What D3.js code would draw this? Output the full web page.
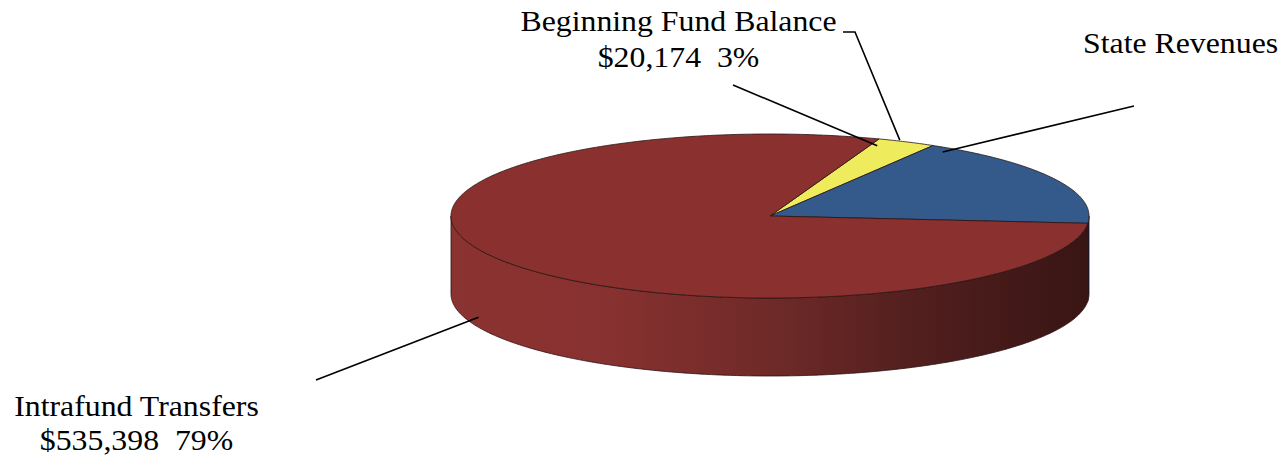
<!DOCTYPE html>
<html><head><meta charset="utf-8">
<script src="https://cdn.jsdelivr.net/npm/d3@7"></script>
<style>html,body{margin:0;padding:0;background:#fff;}svg{display:block;}
text{font-family:"Liberation Serif","Times New Roman","DejaVu Serif",serif;}</style>
</head><body>
<svg id="chart" width="1282" height="462"></svg>
<script>
const categories = ["Beginning Fund Balance", "State Revenues", "Intrafund Transfers"];
const values = [20174, 121000, 535398];
const valueLabels = ["$20,174  3%", "", "$535,398  79%"];
const colors = ["#EEEC5C", "#335A8A", "#8A3130"];

const svg = d3.select("#chart");
const cx = 770, cy = 216, rx = 319, ry = 82, depth = 78;
const start = 20 * Math.PI / 180;

const pie = d3.pie().sort(null).startAngle(start).endAngle(start + 2 * Math.PI);
const arcs = pie(values);

function pt(a, r = 1, dy = 0) {
  return [cx + rx * r * Math.sin(a), cy - ry * r * Math.cos(a) + dy];
}
function arcPts(a0, a1, dy = 0) {
  const n = Math.max(2, Math.ceil(Math.abs(a1 - a0) / 0.01));
  return d3.range(n + 1).map(i => pt(a0 + (a1 - a0) * i / n, 1, dy));
}
const line = d3.line();

const defs = svg.append("defs");
const grad = defs.append("linearGradient").attr("id", "side")
  .attr("gradientUnits", "userSpaceOnUse")
  .attr("x1", cx - rx).attr("x2", cx + rx).attr("y1", 0).attr("y2", 0);
[[0, "#8b3331"], [0.25, "#873130"], [0.5, "#6f2a28"], [0.75, "#4f1e1d"], [1, "#381514"]]
  .forEach(([o, c]) => grad.append("stop").attr("offset", o).attr("stop-color", c));
const gradB = defs.append("linearGradient").attr("id", "sideB")
  .attr("gradientUnits", "userSpaceOnUse")
  .attr("x1", cx - rx).attr("x2", cx + rx).attr("y1", 0).attr("y2", 0);
[[0, "#335A8A"], [1, "#152a45"]].forEach(([o, c]) => gradB.append("stop").attr("offset", o).attr("stop-color", c));

const g = svg.append("g");
arcs.forEach((d, i) => {
  for (let k = -1; k <= 1; k++) {
    const lo = Math.max(d.startAngle, Math.PI / 2 + k * 2 * Math.PI);
    const hi = Math.min(d.endAngle, 3 * Math.PI / 2 + k * 2 * Math.PI);
    if (hi > lo) {
      const top = arcPts(lo, hi, 0);
      const bot = arcPts(hi, lo, depth);
      g.append("path").attr("d", line(top.concat(bot)) + "Z")
        .attr("fill", i === 2 ? "url(#side)" : (i === 1 ? "url(#sideB)" : colors[i]))
        .attr("stroke", "#2a1010").attr("stroke-width", 0.8).attr("stroke-linejoin", "round");
    }
  }
});

arcs.forEach((d, i) => {
  const pts = [[cx, cy]].concat(arcPts(d.startAngle, d.endAngle, 0));
  g.append("path").attr("d", line(pts) + "Z")
    .attr("fill", colors[i]).attr("stroke", "#2a1414").attr("stroke-width", 0.8)
    .attr("stroke-linejoin", "round");
});

const sx = 1.06;
const lab = svg.append("g").attr("font-size", 30).attr("fill", "#000");
function txt(x, y, s, anchor) {
  lab.append("text").attr("transform", `translate(${x},${y}) scale(${sx},1)`)
    .attr("text-anchor", anchor)
    .attr("xml:space", "preserve").style("white-space", "pre").text(s);
}
txt(678.5, 31, categories[0], "middle");
txt(678.5, 67, valueLabels[0], "middle");
txt(1083, 53, categories[1], "start");
txt(136.5, 416, categories[2], "middle");
txt(136.5, 450, valueLabels[2], "middle");

const ll = svg.append("g").attr("stroke", "#000").attr("stroke-width", 1.6).attr("fill", "none");
ll.append("path").attr("d", line([[843, 32], [855, 32], pt(arcs[0].startAngle + 0.07, 1.0, -1)]));
ll.append("path").attr("d", line([[733, 85], pt(arcs[0].startAngle + 0.025, 0.92, 0)]));
ll.append("path").attr("d", line([[1134, 106], pt(arcs[1].startAngle + 0.07, 0.95, 0)]));
ll.append("path").attr("d", line([[316, 380], pt(246 * Math.PI / 180, 1, 68)]));
</script>
</body></html>
